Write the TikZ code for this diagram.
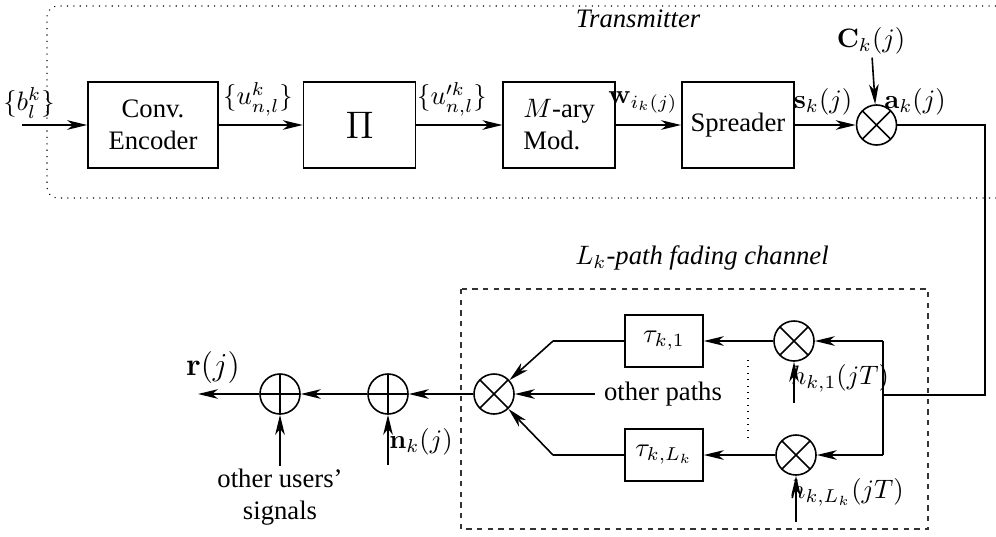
\documentclass[tikz,border=0pt]{standalone}
\usepackage[no-math]{fontspec}
\setmainfont{Liberation Serif}
\usepackage{amsmath}
\usepackage{tikz}
\usetikzlibrary{arrows.meta, positioning}
\tikzset{
	block/.style={rectangle, draw, line width=0.6pt, align=center,
		minimum width=42pt, minimum height=32.25pt, inner sep=1pt},
	delayblock/.style={rectangle, draw, line width=0.6pt,
		minimum width=29.25pt, minimum height=19.5pt, inner sep=1pt},
	mixer/.style={circle, draw, line width=0.6pt, minimum size=15pt, inner sep=0pt,
		path picture={\draw[line width=0.6pt]
			(path picture bounding box.north west)--(path picture bounding box.south east)
			(path picture bounding box.north east)--(path picture bounding box.south west);}},
	adder/.style={circle, draw, line width=0.6pt, minimum size=15pt, inner sep=0pt,
		path picture={\draw[line width=0.6pt]
			(path picture bounding box.north)--(path picture bounding box.south)
			(path picture bounding box.west)--(path picture bounding box.east);}},
	arrow/.style={-{Stealth[length=7.5pt, width=3.6pt, inset=2.2pt]}, line width=0.6pt},
	wire/.style={line width=0.6pt},
	sig/.style={inner sep=1pt},
}

\begin{document}
\begin{tikzpicture}[x=0.375pt, y=-0.375pt, node distance=30pt]
	\useasboundingbox (0,0) rectangle (996,536);
	% transmitter
	\draw[dotted, rounded corners=4pt] (996,6) -- (47,6) -- (47,198) -- (996,198);
	\node[font=\itshape] (txlbl) at (638,19) {Transmitter};
	\node[block, minimum width=48.75pt] (enc) at (153,125) {Conv.\\Encoder};
	\node[block, right=31.5pt of enc, font=\Large] (intl) {$\Pi$};
	\node[block, right=32.25pt of intl, align=left] (mod) {$M$-ary\\Mod.};
	\node[block, right=24.4pt of mod] (spr) {Spreader};
	\node[mixer, right=22.9pt of spr] (code) {};
	\coordinate (bin) at (22,125);
	\node[sig] (blbl) at (29,103) {$\{b_l^k\}$};
	\node[sig] (ulbl) at (258,99) {$\{u_{n,l}^k\}$};
	\node[sig] (uplbl) at (452,99) {$\{u_{n,l}^{\prime k}\}$};
	\node[sig] (wlbl) at (643,102) {$\mathbf{w}_{i_k(j)}$};
	\node[sig] (slbl) at (823,102) {$\mathbf{s}_k(j)$};
	\node[sig] (albl) at (915,102) {$\mathbf{a}_k(j)$};
	\node[sig] (clbl) at (871,41) {$\mathbf{C}_k(j)$};
	\draw[arrow](bin)--(enc);\draw[arrow](enc)--(intl);
	\draw[arrow](intl)--(mod);\draw[arrow](mod)--(spr);
	\draw[arrow](spr)--(code);\draw[arrow](clbl)--(code);
	% channel
	\draw[dashed, dash pattern=on 2pt off 2pt, black!80] (461,289) rectangle (928,529);
	\node (chlbl) at (702,258) {$L_k$\textit{-path fading channel}};
	\coordinate (split) at (883,395);
	\coordinate (top) at (883,341);
	\coordinate (bot) at (883,455);
	\draw[wire] (code.east) -- (985,125) |- (split);
	\draw[wire] (top) -- (bot);
	\node[mixer] (m1) at (794,341) {};
	\node[mixer] (mL) at (796,455) {};
	\node[delayblock] (tau1) at (664,341) {$\tau_{k,1}$};
	\node[delayblock] (tauL) at (664,455) {$\tau_{k,L_k}$};
	\node[mixer] (comb) at (494,394) {};
	\coordinate (k1) at (553,341);
	\coordinate (kL) at (553,455);
	\node (oth) at (663,394) {other paths};
	\draw[arrow](top)--(m1);\draw[arrow](bot)--(mL);
	\draw[arrow](m1)--(tau1);\draw[arrow](mL)--(tauL);
	\draw[wire](tau1)--(k1);\draw[arrow](k1)--(comb);
	\draw[wire](tauL)--(kL);\draw[arrow](kL)--(comb);
	\draw[arrow](oth)--(comb);
	\draw[dotted] (748,360) -- (748,440);
	\node[sig] (h1lbl) at (840,378) {$h_{k,1}(jT)$};
	\node[sig] (hLlbl) at (847,492) {$h_{k,L_k}(jT)$};
	\coordinate (h1in) at (794,403);
	\coordinate (hLin) at (796,522);
	\draw[arrow](h1in)--(m1);\draw[arrow](hLin)--(mL);
	% receiver side
	\node[adder] (noise) at (388,394) {};
	\node[adder] (mai) at (280,394) {};
	\coordinate (out) at (198,394);
	\coordinate (nin) at (388,465);
	\node[sig, font=\large] (rlbl) at (213,367) {$\mathbf{r}(j)$};
	\node[sig] (nlbl) at (421,442) {$\mathbf{n}_k(j)$};
	\node[align=center, inner sep=1pt] (users) at (280,497) {other users'\\signals};
	\draw[arrow](comb)--(noise);\draw[arrow](noise)--(mai);
	\draw[arrow](mai)--(out);
	\draw[arrow](nin)--(noise);\draw[arrow](users)--(mai);
\end{tikzpicture}
\end{document}
